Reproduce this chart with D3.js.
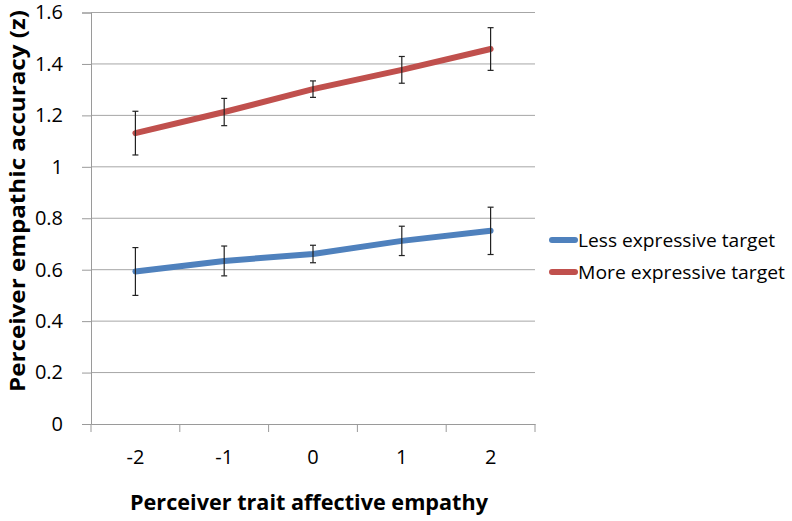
<!DOCTYPE html>
<html><head><meta charset="utf-8">
<script src="https://cdn.jsdelivr.net/npm/d3@7"></script>
<style>body{margin:0;background:#fff}svg{display:block}text{font-family:"Open Sans",Lato,sans-serif}</style>
</head><body><svg id="c" width="792" height="521"></svg>
<script>
const categories = ["-2","-1","0","1","2"];
const lessValues = [0.593,0.634,0.661,0.712,0.751];
const lessErrors = [0.093,0.058,0.034,0.057,0.092];
const moreValues = [1.131,1.213,1.302,1.377,1.458];
const moreErrors = [0.085,0.053,0.032,0.052,0.083];
const yTicks = [0,0.2,0.4,0.6,0.8,1,1.2,1.4,1.6];
const seriesNames = ["Less expressive target","More expressive target"];
const colors = ["#4F81BD","#C0504D"];

(function(){
const svg = d3.select("#c");
const pLeft=91,pRight=535,pTop=12.5,pBottom=424;
const x = d3.scaleBand().domain(categories).range([pLeft,pRight]);
const y = d3.scaleLinear().domain([0,1.6]).range([pBottom,pTop]);

svg.append("g").selectAll("line").data(yTicks.filter(d=>d>0)).join("line")
  .attr("x1",pLeft).attr("x2",pRight).attr("y1",d=>y(d)).attr("y2",d=>y(d))
  .attr("stroke","#a6a6a6").attr("stroke-width",1);

const ya = svg.append("g").attr("transform",`translate(${pLeft},0)`)
  .call(d3.axisLeft(y).tickValues(yTicks).tickFormat(d=>String(d)).tickSize(9).tickPadding(19));
ya.select(".domain").attr("stroke","#9a9a9a");
ya.selectAll(".tick line").attr("stroke","#9a9a9a");
ya.selectAll("text").attr("font-size",20).attr("fill","#000");

const xa = svg.append("g").attr("transform",`translate(0,${pBottom})`)
  .call(d3.axisBottom(x).tickSize(0).tickPadding(26));
xa.select(".domain").attr("stroke","#9a9a9a");
xa.selectAll("text").attr("font-size",20).attr("fill","#000");
const edges = categories.map(c=>x(c)).concat([pRight]);
xa.selectAll("line.edge").data(edges).join("line").attr("class","edge")
  .attr("x1",d=>d).attr("x2",d=>d).attr("y1",0).attr("y2",8).attr("stroke","#9a9a9a");

const series = [
  {name:seriesNames[0],values:lessValues,errors:lessErrors,color:colors[0]},
  {name:seriesNames[1],values:moreValues,errors:moreErrors,color:colors[1]}
];
const cx = c=>x(c)+x.bandwidth()/2;
const line = d3.line().x((d,i)=>cx(categories[i])).y(d=>y(d));

series.forEach(s=>{
  svg.append("path").datum(s.values).attr("d",line).attr("fill","none")
    .attr("stroke",s.color).attr("stroke-width",6).attr("stroke-linecap","round").attr("stroke-linejoin","round");
  const g = svg.append("g");
  s.values.forEach((v,i)=>{
    const xx = cx(categories[i]);
    const y1=y(v+s.errors[i]), y2=y(v-s.errors[i]);
    g.append("line").attr("x1",xx).attr("x2",xx).attr("y1",y1).attr("y2",y2).attr("stroke","#222").attr("stroke-width",1.2);
    [y1,y2].forEach(yy=>g.append("line").attr("x1",xx-3).attr("x2",xx+3).attr("y1",yy).attr("y2",yy).attr("stroke","#222").attr("stroke-width",1.2));
  });
});

const leg = svg.append("g");
series.forEach((s,i)=>{
  const ly = 240 + i*32;
  leg.append("line").attr("x1",552).attr("x2",575).attr("y1",ly).attr("y2",ly)
    .attr("stroke",s.color).attr("stroke-width",6).attr("stroke-linecap","round");
  leg.append("text").attr("x",578).attr("y",ly).attr("dy","0.35em").attr("font-size",19)
    .attr("textLength",s.name==="More expressive target"?207:197).attr("lengthAdjust","spacingAndGlyphs").text(s.name);
});

svg.append("text").attr("x",309).attr("y",510).attr("text-anchor","middle")
  .attr("font-size",21).attr("font-weight","bold")
  .attr("textLength",358).attr("lengthAdjust","spacingAndGlyphs").text("Perceiver trait affective empathy");
svg.append("text").attr("transform",`translate(25,201) rotate(-90)`).attr("text-anchor","middle")
  .attr("font-size",21).attr("font-weight","bold")
  .attr("textLength",382).attr("lengthAdjust","spacingAndGlyphs").text("Perceiver empathic accuracy (z)");
})();
</script></body></html>
